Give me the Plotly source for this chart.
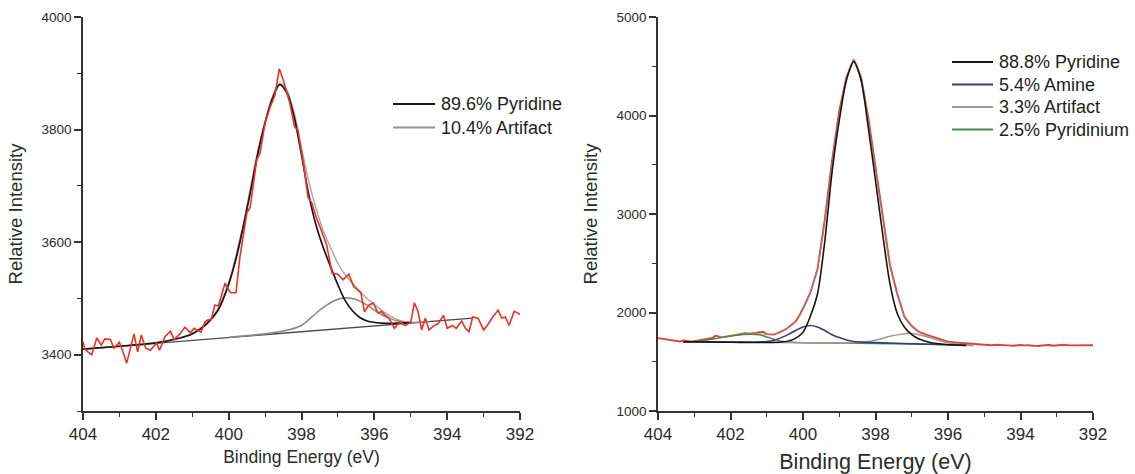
import plotly.graph_objects as go

# ---------------- Left panel data (Binding energy eV, intensity) ----------------
left_measured = [
    (404.0, 3423), (403.95, 3410), (403.85, 3404), (403.76, 3400), (403.62, 3430),
    (403.5, 3417), (403.4, 3428), (403.25, 3427), (403.15, 3412), (403.0, 3422),
    (402.9, 3405), (402.8, 3385), (402.6, 3437), (402.5, 3405), (402.4, 3435),
    (402.28, 3412), (402.15, 3408), (401.98, 3421), (401.9, 3408), (401.75, 3432),
    (401.6, 3442), (401.5, 3427), (401.35, 3436), (401.2, 3449), (401.05, 3439),
    (400.95, 3447), (400.76, 3440), (400.65, 3458), (400.57, 3462), (400.48, 3462),
    (400.38, 3488), (400.28, 3487), (400.1, 3527), (399.95, 3510), (399.8, 3510),
    (399.69, 3574), (399.5, 3652), (399.41, 3662), (399.23, 3746), (399.14, 3758),
    (399.0, 3812), (398.86, 3840), (398.73, 3861), (398.61, 3908), (398.5, 3888),
    (398.32, 3847), (398.19, 3805), (398.1, 3799), (397.95, 3741), (397.82, 3680),
    (397.72, 3670), (397.6, 3645), (397.49, 3627), (397.31, 3595), (397.16, 3545),
    (397.0, 3543), (396.86, 3533), (396.7, 3543), (396.57, 3521), (396.45, 3515),
    (396.37, 3510), (396.27, 3476), (396.15, 3488), (396.03, 3492), (395.9, 3474),
    (395.8, 3477), (395.7, 3470), (395.6, 3465), (395.45, 3447), (395.3, 3458),
    (395.15, 3452), (395.0, 3458), (394.9, 3492), (394.8, 3477), (394.7, 3444),
    (394.6, 3465), (394.5, 3444), (394.35, 3452), (394.25, 3455), (394.1, 3470),
    (394.0, 3447), (393.85, 3452), (393.75, 3447), (393.6, 3460), (393.5, 3447),
    (393.4, 3441), (393.3, 3467), (393.15, 3465), (393.0, 3444), (392.9, 3452),
    (392.75, 3467), (392.6, 3479), (392.5, 3465), (392.4, 3467), (392.3, 3452),
    (392.16, 3477), (392.05, 3474), (392.0, 3471),
]
left_baseline = [(404.0, 3410), (393.3, 3465)]
left_pyridine = [
    (404.0, 3410), (403.0, 3415), (402.0, 3421), (401.5, 3427), (401.0, 3437),
    (400.6, 3455), (400.3, 3478), (400.0, 3525), (399.8, 3570), (399.6, 3627),
    (399.4, 3690), (399.2, 3757), (399.0, 3812), (398.8, 3855), (398.6, 3880),
    (398.4, 3865), (398.2, 3822), (398.0, 3755), (397.8, 3684), (397.6, 3630),
    (397.4, 3590), (397.2, 3556), (397.0, 3524), (396.8, 3496), (396.6, 3478),
    (396.4, 3466), (396.2, 3460), (395.8, 3456), (395.4, 3456), (395.0, 3457),
]
left_artifact = [
    (400.0, 3431), (399.0, 3437), (398.5, 3442), (398.0, 3452), (397.7, 3468),
    (397.4, 3484), (397.1, 3496), (396.8, 3501), (396.5, 3498), (396.2, 3488),
    (395.9, 3475), (395.6, 3465), (395.3, 3459), (395.0, 3457), (394.5, 3459),
]
left_envelope = [
    (404.0, 3410), (402.0, 3421), (401.0, 3438), (400.6, 3457), (400.3, 3481),
    (400.0, 3528), (399.6, 3632), (399.2, 3762), (398.8, 3858), (398.6, 3883),
    (398.4, 3870), (398.2, 3830), (398.0, 3768), (397.8, 3708), (397.6, 3660),
    (397.4, 3620), (397.2, 3590), (397.0, 3562), (396.8, 3542), (396.5, 3520),
    (396.2, 3500), (395.9, 3484), (395.6, 3470), (395.3, 3461), (395.0, 3457),
]

# ---------------- Right panel data ----------------
right_measured = [
    (404.0, 1740), (403.9, 1735), (403.8, 1728), (403.7, 1724), (403.6, 1720),
    (403.5, 1712), (403.4, 1705), (403.3, 1716), (403.2, 1712), (403.1, 1706),
    (403.0, 1710), (402.9, 1716), (402.8, 1720), (402.7, 1726), (402.6, 1735),
    (402.5, 1742), (402.4, 1765), (402.3, 1752), (402.2, 1750), (402.1, 1758),
    (402.0, 1762), (401.9, 1770), (401.8, 1775), (401.7, 1782), (401.6, 1790),
    (401.5, 1784), (401.4, 1785), (401.3, 1792), (401.2, 1800), (401.1, 1805),
    (401.0, 1780), (400.9, 1776), (400.8, 1775), (400.7, 1790), (400.6, 1805),
    (400.5, 1825), (400.4, 1850), (400.3, 1880), (400.2, 1910), (400.1, 1970),
    (400.0, 2040), (399.8, 2200), (399.6, 2440), (399.4, 2940), (399.2, 3540),
    (399.0, 4050), (398.8, 4390), (398.6, 4568), (398.4, 4390), (398.2, 3980),
    (398.0, 3480), (397.8, 2960), (397.6, 2480), (397.4, 2190), (397.2, 1955),
    (397.0, 1862), (396.8, 1802), (396.6, 1776), (396.4, 1752), (396.2, 1722),
    (396.0, 1704), (395.8, 1695), (395.65, 1690), (395.5, 1688), (395.35, 1683),
    (395.2, 1680), (395.1, 1676), (395.0, 1675), (394.9, 1670), (394.8, 1668),
    (394.65, 1673), (394.5, 1672), (394.35, 1666), (394.2, 1662), (394.1, 1668),
    (394.0, 1670), (393.9, 1666), (393.8, 1668), (393.65, 1663), (393.5, 1660),
    (393.35, 1668), (393.2, 1670), (393.1, 1663), (393.0, 1665), (392.9, 1670),
    (392.8, 1672), (392.65, 1666), (392.5, 1665), (392.35, 1671), (392.2, 1670),
    (392.1, 1666), (392.0, 1668),
]
right_pyridine = [
    (403.3, 1703), (402.0, 1698), (401.0, 1695), (400.6, 1700), (400.3, 1722),
    (400.0, 1800), (399.8, 1960), (399.6, 2190), (399.4, 2720), (399.2, 3420),
    (399.0, 3950), (398.8, 4360), (398.6, 4548), (398.4, 4360), (398.2, 3880),
    (398.0, 3340), (397.8, 2790), (397.6, 2290), (397.4, 1990), (397.2, 1850),
    (397.0, 1775), (396.8, 1730), (396.5, 1695), (396.2, 1680), (395.8, 1670),
    (395.5, 1666),
]
right_amine = [
    (403.3, 1703), (402.0, 1699), (401.4, 1698), (401.0, 1705), (400.8, 1718),
    (400.6, 1745), (400.4, 1778), (400.2, 1818), (400.0, 1853), (399.8, 1868),
    (399.6, 1853), (399.4, 1818), (399.2, 1775), (399.0, 1745), (398.8, 1720),
    (398.6, 1706), (398.3, 1698), (398.0, 1694), (397.0, 1682), (396.0, 1672),
    (395.5, 1666),
]
right_artifact = [
    (403.3, 1703), (400.0, 1694), (399.0, 1690), (398.5, 1695), (398.2, 1705),
    (397.9, 1728), (397.6, 1758), (397.3, 1778), (397.0, 1788), (396.8, 1775),
    (396.5, 1745), (396.2, 1712), (395.9, 1685), (395.6, 1672), (395.3, 1667),
]
right_pyridinium = [
    (403.3, 1703), (403.0, 1706), (402.7, 1718), (402.4, 1735), (402.1, 1755),
    (401.8, 1772), (401.5, 1780), (401.2, 1775), (401.0, 1752), (400.8, 1728),
    (400.6, 1708), (400.3, 1698), (400.0, 1694), (399.0, 1690), (398.0, 1686),
    (397.0, 1681), (396.0, 1672), (395.3, 1665),
]
right_envelope = [
    (403.3, 1703), (403.0, 1706), (402.7, 1718), (402.4, 1736), (402.1, 1756),
    (401.8, 1775), (401.5, 1785), (401.2, 1785), (401.0, 1775), (400.8, 1778),
    (400.6, 1802), (400.4, 1846), (400.2, 1912), (400.0, 2032), (399.8, 2200),
    (399.6, 2450), (399.4, 2910), (399.2, 3500), (399.0, 4020), (398.8, 4380),
    (398.6, 4560), (398.4, 4385), (398.2, 3960), (398.0, 3460), (397.8, 2950),
    (397.6, 2470), (397.4, 2175), (397.2, 1960), (397.0, 1860), (396.8, 1800),
    (396.5, 1750), (396.2, 1712), (395.9, 1688), (395.6, 1674), (395.3, 1667),
]

left_legend = [("89.6% Pyridine", "#161616"), ("10.4% Artifact", "#9a928e")]
right_legend = [("88.8% Pyridine", "#161616"), ("5.4% Amine", "#3d3580"),
                ("3.3% Artifact", "#a09894"), ("2.5% Pyridinium", "#3f8f46")]

x_ticks = [404, 402, 400, 398, 396, 394, 392]
left_yticks = [3400, 3600, 3800, 4000]
right_yticks = [1000, 2000, 3000, 4000, 5000]

RED = "#ec2f27"
RED2 = "#df4238"
FONT = "Liberation Sans, Arial, sans-serif"
TXT = "#2b2b2b"
AX = "#333333"

W, H = 1135, 474


def xs(pts):
    return [p[0] for p in pts]


def ys(pts):
    return [p[1] for p in pts]


fig = go.Figure()


def add(pts, color, width, xa, ya, spline=True, opacity=1.0):
    fig.add_trace(go.Scatter(
        x=xs(pts), y=ys(pts), mode="lines", xaxis=xa, yaxis=ya,
        line=dict(color=color, width=width, shape="spline" if spline else "linear",
                  smoothing=0.8),
        opacity=opacity, showlegend=False, hoverinfo="skip"))


# left panel
add(left_baseline, "#4a4a4a", 1.3, "x", "y", spline=False)
add(left_envelope, "#a9a5a3", 1.4, "x", "y")
add(left_artifact, "#8f8884", 1.6, "x", "y")
add(left_pyridine, "#161616", 1.7, "x", "y")
add(left_measured, RED, 1.6, "x", "y", spline=False)

# right panel
add(right_measured, RED2, 1.9, "x2", "y2", spline=False)
add(right_envelope, "#9a9290", 1.1, "x2", "y2", opacity=0.6)
add(right_pyridinium, "#3f8f46", 1.5, "x2", "y2")
add(right_artifact, "#a09894", 1.5, "x2", "y2")
add(right_amine, "#3d3580", 1.6, "x2", "y2")
add(right_pyridine, "#161616", 1.6, "x2", "y2")

# manual legends (line sample + real text)
shapes, annots = [], []
for i, (label, col) in enumerate(left_legend):
    yy = 104 + i * 23.5
    shapes.append(dict(type="line", xref="paper", yref="paper",
                       x0=393 / W, x1=435 / W, y0=1 - yy / H, y1=1 - yy / H,
                       line=dict(color=col, width=2)))
    annots.append(dict(text=label, xref="paper", yref="paper", x=439 / W, y=1 - yy / H,
                       xanchor="left", yanchor="middle", showarrow=False,
                       font=dict(family=FONT, size=18, color="#1e1e1e")))
for i, (label, col) in enumerate(right_legend):
    yy = 62 + i * 22.5
    shapes.append(dict(type="line", xref="paper", yref="paper",
                       x0=952 / W, x1=993 / W, y0=1 - yy / H, y1=1 - yy / H,
                       line=dict(color=col, width=2)))
    annots.append(dict(text=label, xref="paper", yref="paper", x=997 / W, y=1 - yy / H,
                       xanchor="left", yanchor="middle", showarrow=False,
                       font=dict(family=FONT, size=18, color="#1e1e1e")))

ydom = [1 - 411 / H, 1 - 17 / H]
common_ax = dict(showline=True, linecolor=AX, linewidth=1.5, showgrid=False,
                 zeroline=False, ticks="outside", ticklen=7, tickwidth=1.5,
                 tickcolor=AX, automargin=False)

fig.update_layout(
    width=W, height=H, margin=dict(l=0, r=0, t=0, b=0),
    paper_bgcolor="white", plot_bgcolor="white",
    font=dict(family=FONT, color=TXT),
    showlegend=False,
    shapes=shapes, annotations=annots,
    xaxis=dict(common_ax, domain=[83 / W, 520 / W], range=[404, 392], anchor="y",
               tickvals=x_ticks, tickfont=dict(size=17, color=TXT),
               minor=dict(dtick=1, tick0=392, ticks="outside", ticklen=4,
                          tickwidth=1.3, tickcolor=AX, showgrid=False),
               title=dict(text="Binding Energy (eV)", font=dict(size=17.5, color=TXT),
                          standoff=8)),
    yaxis=dict(common_ax, domain=ydom, range=[3300, 4000], anchor="x",
               tickvals=left_yticks, tickfont=dict(size=13.5, color=TXT),
               minor=dict(dtick=100, tick0=3300, ticks="outside", ticklen=4,
                          tickwidth=1.3, tickcolor=AX, showgrid=False),
               title=dict(text="Relative Intensity", font=dict(size=18.5, color=TXT),
                          standoff=14)),
    xaxis2=dict(common_ax, domain=[658 / W, 1093 / W], range=[404, 392], anchor="y2",
                tickvals=x_ticks, tickfont=dict(size=17, color=TXT),
                minor=dict(dtick=1, tick0=392, ticks="outside", ticklen=4,
                           tickwidth=1.3, tickcolor=AX, showgrid=False),
                title=dict(text="Binding Energy (eV)", font=dict(size=21.5, color=TXT),
                           standoff=11)),
    yaxis2=dict(common_ax, domain=ydom, range=[1000, 5000], anchor="x2",
                tickvals=right_yticks, tickfont=dict(size=13.5, color=TXT),
                minor=dict(dtick=500, tick0=1000, ticks="outside", ticklen=4,
                           tickwidth=1.3, tickcolor=AX, showgrid=False),
                title=dict(text="Relative Intensity", font=dict(size=18.5, color=TXT),
                           standoff=14)),
)

fig.write_html("out.html")
